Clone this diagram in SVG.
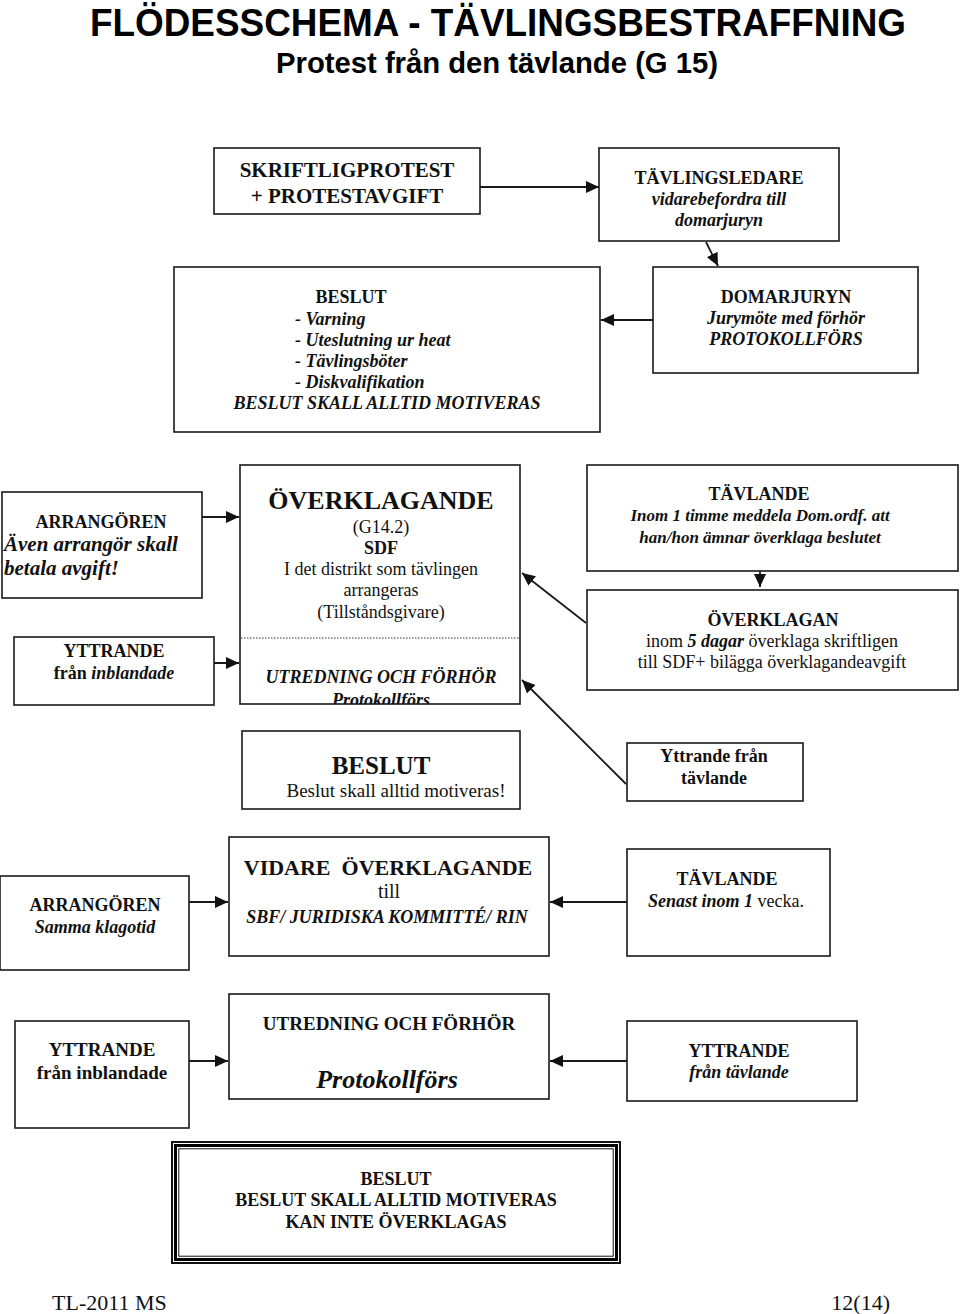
<svg xmlns="http://www.w3.org/2000/svg" width="960" height="1314" viewBox="0 0 960 1314">
<style>
.bx{fill:#fff;stroke:#1a1a1a;stroke-width:1.6}
.t{font-family:"Liberation Serif","Times New Roman",serif;fill:#111;text-anchor:middle}
.st{text-anchor:start}
.en{text-anchor:end}
.b{font-weight:bold}
.i{font-style:italic}
.bi{font-weight:bold;font-style:italic}
.s18{font-size:18px}
.ln{stroke:#1a1a1a;stroke-width:1.8;fill:none}
.ttl{font-family:"Liberation Sans",Arial,sans-serif;font-weight:bold;fill:#000;text-anchor:start}
</style>
<defs>
<marker id="ah" markerUnits="userSpaceOnUse" markerWidth="14" markerHeight="12" refX="13" refY="6" orient="auto">
<path d="M0,0 L13,6 L0,12 z" fill="#111"/>
</marker>
<clipPath id="ovclip"><rect x="240" y="465" width="280" height="239"/></clipPath>
</defs>

<g id="title">
<text class="ttl" x="90" y="36" font-size="38" textLength="816" lengthAdjust="spacingAndGlyphs">FLÖDESSCHEMA - TÄVLINGSBESTRAFFNING</text>
<text class="ttl" x="276" y="73" font-size="29" textLength="442" lengthAdjust="spacingAndGlyphs">Protest från den tävlande (G 15)</text>
</g>

<g id="connectors">
<line class="ln" x1="480" y1="187" x2="599" y2="187" marker-end="url(#ah)"/>
<line class="ln" x1="706" y1="242" x2="718" y2="266" marker-end="url(#ah)"/>
<line class="ln" x1="653" y1="320" x2="601" y2="320" marker-end="url(#ah)"/>
<line class="ln" x1="202" y1="517" x2="239" y2="517" marker-end="url(#ah)"/>
<line class="ln" x1="186" y1="663" x2="239" y2="663" marker-end="url(#ah)"/>
<line class="ln" x1="760" y1="571" x2="760" y2="587" marker-end="url(#ah)"/>
<line class="ln" x1="586" y1="623" x2="522" y2="573" marker-end="url(#ah)"/>
<line class="ln" x1="626" y1="784" x2="522" y2="680" marker-end="url(#ah)"/>
<line class="ln" x1="189" y1="902" x2="228" y2="902" marker-end="url(#ah)"/>
<line class="ln" x1="627" y1="902" x2="550" y2="902" marker-end="url(#ah)"/>
<line class="ln" x1="189" y1="1061" x2="228" y2="1061" marker-end="url(#ah)"/>
<line class="ln" x1="627" y1="1061" x2="550" y2="1061" marker-end="url(#ah)"/>
</g>

<g id="skriftligprotest">
<rect class="bx" x="214" y="148" width="266" height="66"/>
<text class="t b" font-size="21" x="347" y="177">SKRIFTLIGPROTEST</text>
<text class="t b" font-size="21" x="347" y="203">+ PROTESTAVGIFT</text>
</g>

<g id="tavlingsledare">
<rect class="bx" x="599" y="148" width="240" height="93"/>
<text class="t b s18" x="719" y="184">TÄVLINGSLEDARE</text>
<text class="t bi s18" x="719" y="205">vidarebefordra till</text>
<text class="t bi s18" x="719" y="226">domarjuryn</text>
</g>

<g id="beslut1">
<rect class="bx" x="174" y="267" width="426" height="165"/>
<text class="t b s18" x="351" y="303">BESLUT</text>
<text class="t st bi s18" x="295" y="325">- Varning</text>
<text class="t st bi s18" x="295" y="346">- Uteslutning ur heat</text>
<text class="t st bi s18" x="295" y="367">- Tävlingsböter</text>
<text class="t st bi s18" x="295" y="388">- Diskvalifikation</text>
<text class="t bi s18" x="387" y="409">BESLUT SKALL ALLTID MOTIVERAS</text>
</g>

<g id="domarjuryn">
<rect class="bx" x="653" y="267" width="265" height="106"/>
<text class="t b s18" x="786" y="303">DOMARJURYN</text>
<text class="t bi s18" x="786" y="324">Jurymöte med förhör</text>
<text class="t bi s18" x="786" y="345">PROTOKOLLFÖRS</text>
</g>

<g id="arrangoren1">
<rect class="bx" x="2" y="492" width="200" height="106"/>
<text class="t b s18" x="101" y="528">ARRANGÖREN</text>
<text class="t st bi" font-size="21" x="4" y="551">Även arrangör skall</text>
<text class="t st bi" font-size="21" x="4" y="575">betala avgift!</text>
</g>

<g id="yttrande1">
<rect class="bx" x="14" y="637" width="200" height="68"/>
<text class="t b s18" x="114" y="657">YTTRANDE</text>
<text class="t s18" x="114" y="679"><tspan class="b">från </tspan><tspan class="bi">inblandade</tspan></text>
</g>

<g id="overklagande">
<rect class="bx" x="240" y="465" width="280" height="239"/>
<text class="t b" font-size="26" x="381" y="509">ÖVERKLAGANDE</text>
<text class="t s18" x="381" y="533">(G14.2)</text>
<text class="t b s18" x="381" y="554">SDF</text>
<text class="t s18" x="381" y="575">I det distrikt som tävlingen</text>
<text class="t s18" x="381" y="596">arrangeras</text>
<text class="t s18" x="381" y="618">(Tillståndsgivare)</text>
<line x1="241" y1="638" x2="519" y2="638" stroke="#333" stroke-width="1" stroke-dasharray="1.5 1.5"/>
<text class="t bi s18" x="381" y="683">UTREDNING OCH FÖRHÖR</text>
<text class="t bi s18" x="381" y="706" clip-path="url(#ovclip)">Protokollförs</text>
</g>

<g id="tavlande1">
<rect class="bx" x="587" y="465" width="371" height="106"/>
<text class="t b s18" x="759" y="500">TÄVLANDE</text>
<text class="t bi" font-size="17" x="760" y="521">Inom 1 timme meddela Dom.ordf. att</text>
<text class="t bi" font-size="17" x="760" y="543">han/hon ämnar överklaga beslutet</text>
</g>

<g id="overklagan">
<rect class="bx" x="587" y="590" width="371" height="100"/>
<text class="t b s18" x="773" y="626">ÖVERKLAGAN</text>
<text class="t s18" x="772" y="647">inom <tspan class="bi">5 dagar</tspan> överklaga skriftligen</text>
<text class="t s18" x="772" y="668">till SDF+ bilägga överklagandeavgift</text>
</g>

<g id="beslut2">
<rect class="bx" x="242" y="731" width="278" height="78"/>
<text class="t b" font-size="25" x="381" y="774">BESLUT</text>
<text class="t" font-size="19" x="396" y="797">Beslut skall alltid motiveras!</text>
</g>

<g id="yttrande-tavlande1">
<rect class="bx" x="627" y="743" width="176" height="58"/>
<text class="t b s18" x="714" y="762">Yttrande från</text>
<text class="t b s18" x="714" y="784">tävlande</text>
</g>

<g id="arrangoren2">
<rect class="bx" x="0" y="876" width="189" height="94"/>
<text class="t b s18" x="95" y="911">ARRANGÖREN</text>
<text class="t bi s18" x="95" y="933">Samma klagotid</text>
</g>

<g id="vidare">
<rect class="bx" x="229" y="837" width="320" height="119"/>
<text class="t b" font-size="22" x="388" y="875" xml:space="preserve">VIDARE  ÖVERKLAGANDE</text>
<text class="t" font-size="20" x="389" y="898">till</text>
<text class="t bi s18" x="387" y="923">SBF/ JURIDISKA KOMMITTÉ/ RIN</text>
</g>

<g id="tavlande2">
<rect class="bx" x="627" y="849" width="203" height="107"/>
<text class="t b s18" x="727" y="885">TÄVLANDE</text>
<text class="t s18" x="726" y="907"><tspan class="bi">Senast inom 1</tspan> vecka.</text>
</g>

<g id="yttrande2">
<rect class="bx" x="15" y="1021" width="174" height="107"/>
<text class="t b" font-size="19" x="102" y="1056">YTTRANDE</text>
<text class="t b" font-size="19" x="102" y="1079">från inblandade</text>
</g>

<g id="utredning">
<rect class="bx" x="229" y="994" width="320" height="105"/>
<text class="t b" font-size="19" x="389" y="1030">UTREDNING OCH FÖRHÖR</text>
<text class="t bi" font-size="26" x="387" y="1088">Protokollförs</text>
</g>

<g id="yttrande-tavlande2">
<rect class="bx" x="627" y="1021" width="230" height="80"/>
<text class="t b s18" x="739" y="1057">YTTRANDE</text>
<text class="t bi s18" x="739" y="1078">från tävlande</text>
</g>

<g id="beslut-final">
<rect x="172" y="1142" width="448" height="121" fill="#fff" stroke="#111" stroke-width="2"/>
<rect x="175.5" y="1145.5" width="441" height="114" fill="none" stroke="#000" stroke-width="3"/>
<rect x="178.8" y="1148.8" width="434.4" height="107.4" fill="none" stroke="#111" stroke-width="1"/>
<text class="t b s18" x="396" y="1185">BESLUT</text>
<text class="t b s18" x="396" y="1206">BESLUT SKALL ALLTID MOTIVERAS</text>
<text class="t b s18" x="396" y="1228">KAN INTE ÖVERKLAGAS</text>
</g>

<g id="footer">
<text class="t st" font-size="22" x="52" y="1310">TL-2011 MS</text>
<text class="t en" font-size="22" x="890" y="1310">12(14)</text>
</g>
</svg>
